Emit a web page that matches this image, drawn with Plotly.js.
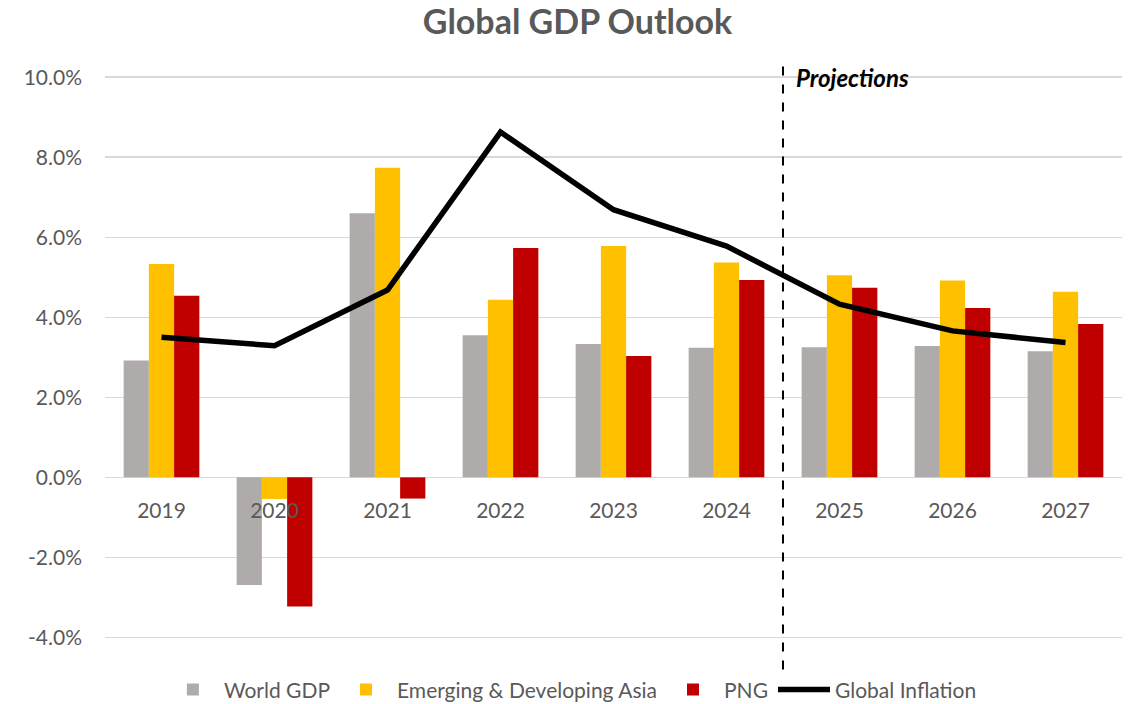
<!DOCTYPE html>
<html>
<head>
<meta charset="utf-8">
<script src="https://cdn.plot.ly/plotly-3.0.1.min.js"></script>
<style>html,body{margin:0;padding:0;background:#fff;}#chart{width:1128px;height:704px;}</style>
</head>
<body>
<div id="chart"></div>
<script>
const years = ['2019','2020','2021','2022','2023','2024','2025','2026','2027'];
const worldGDP = [2.92, -2.69, 6.60, 3.55, 3.33, 3.24, 3.25, 3.28, 3.15];
const emergingAsia = [5.33, -0.54, 7.74, 4.44, 5.78, 5.37, 5.05, 4.92, 4.64];
const png = [4.54, -3.23, -0.53, 5.73, 3.03, 4.93, 4.74, 4.23, 3.83];
const globalInflation = [3.50, 3.29, 4.68, 8.63, 6.69, 5.78, 4.33, 3.66, 3.37];
const yTickVals = [-4, -2, 0, 2, 4, 6, 8, 10];
const yTickText = ['-4.0%', '-2.0%', '0.0%', '2.0%', '4.0%', '6.0%', '8.0%', '10.0%'];

const FONT = 'Lato, "Open Sans", sans-serif';
const GREY = '#595959';
const yRange = [-4.80, 10.43];
const zeroPos = (0 - yRange[0]) / (yRange[1] - yRange[0]);

const traces = [
  {type:'bar', name:'World GDP', x:years, y:worldGDP, marker:{color:'#AFABAB'}},
  {type:'bar', name:'Emerging & Developing Asia', x:years, y:emergingAsia, marker:{color:'#FFC000'}},
  {type:'bar', name:'PNG', x:years, y:png, marker:{color:'#C00000'}},
  {type:'scatter', mode:'lines', name:'Global Inflation', x:years, y:globalInflation,
   line:{color:'#000000', width:5.5}}
];

const layout = {
  width:1128, height:704,
  margin:{l:105, r:6, t:60, b:32},
  paper_bgcolor:'#ffffff', plot_bgcolor:'#ffffff',
  font:{family:FONT, color:GREY, size:21},
  title:{text:'<b>Global GDP Outlook</b>', font:{family:FONT, size:34, color:GREY},
         xref:'container', x:0.512, xanchor:'center', yref:'container', y:0.968, yanchor:'middle'},
  barmode:'group', bargap:0.33, bargroupgap:0,
  xaxis:{type:'category', anchor:'free', position:zeroPos, showline:false, showgrid:false,
         zeroline:false, ticks:'', ticklabelstandoff:19, tickfont:{family:FONT, size:21, color:GREY},
         fixedrange:true},
  yaxis:{range:yRange, tickvals:yTickVals, ticktext:yTickText, showgrid:true,
         gridcolor:'#D9D9D9', gridwidth:1.5, zeroline:false, showline:false,
         ticklabelstandoff:22, tickfont:{family:FONT, size:21, color:GREY}, fixedrange:true},
  showlegend:true,
  legend:{orientation:'h', xref:'container', x:0.507, xanchor:'center', yref:'container', y:0.02,
          yanchor:'middle', font:{family:FONT, size:21, color:GREY}, itemwidth:52,
          traceorder:'normal', bgcolor:'rgba(0,0,0,0)'},
  shapes:[{type:'line', xref:'x', yref:'paper', x0:5.5, x1:5.5, y0:0, y1:1,
           line:{color:'#000000', width:2, dash:'dash'}}],
  annotations:[{xref:'x', yref:'y', x:5.6, y:10, xanchor:'left', yanchor:'middle',
                text:'<b><i>Projections</i></b>', showarrow:false,
                font:{family:FONT, size:24, color:'#000000'}}]
};

Plotly.newPlot('chart', traces, layout, {displayModeBar:false, staticPlot:true});
</script>
</body>
</html>
